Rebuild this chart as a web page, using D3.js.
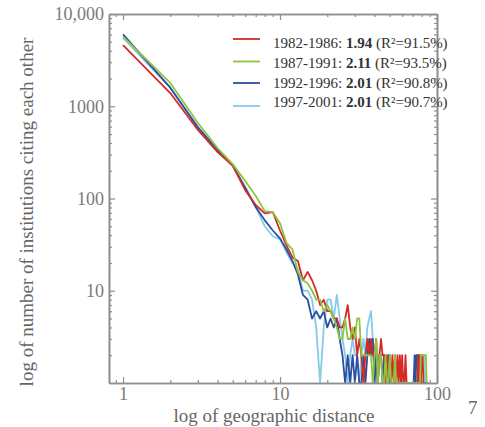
<!DOCTYPE html>
<html><head><meta charset="utf-8">
<script src="https://cdn.jsdelivr.net/npm/d3@7/dist/d3.min.js"></script>
<style>
html,body{margin:0;padding:0;background:#fff;}
svg{display:block;}
</style></head>
<body>
<script>
const distance = [1,2,3,4,5,6,7,8,9,10,11,12,13,14,15,16,17,18,19,20,21,22,23,24,25,26,27,28,29,30,31,32,33,34,35,36,37,38,39,40,41,42,43,44,45,46,47,48,49,50,51,52,53,54,55,56,57,58,59,60,61,62,63,64,65,66,67,68,69,70,71,72,73,74,75,76,77,78,79,80,81,82,83,84,85,86,87,88];

const red = [4600,1390,553,318,228,123,85,69,71,45, 31,23,21,13,16,13,10,7,8,6, 6,5,5,4,4,5,7,4,3,4, 2,3,2,1,2,3,2,3,2,2, 3,1,2,3,2,2,1,2,1,2, 1,2,1,2,1,2,1,2,1,2, 1,1,2,1,1,1,1,1,1,1, 1,1,1,1,1,2,1,2,1,2, 2,1,1,1,1,1,1,1];
const green = [5700,1790,658,352,236,155,107,73,71,54, 33,28,16,13,12,10,8,8,6,7, 6,5,4,3,3,5,3,3,4,3, 5,5,2,2,2,2,2,2,1,2, 3,1,2,2,1,1,2,1,1,2, 1,1,1,2,1,1,1,1,1,1, 1,1,1,1,1,1,1,1,1,1, 1,1,1,1,1,1,1,1,2,2, 2,2,2,2,2,1,1,1];
const blue = [6000,1590,590,336,228,130,81,58,45,37, 28,21,15,9,8,5,6,5,6,4, 5,4,5,3,2,1,2,1,2,1, 2,1,1,2,1,2,3,2,3,1, 2,1,2,2,1,2,1,1,2,1, 1,1,1,1,1,1,1,1,1,1, 1,1,1,1,1,1,1,1,1,1, 1,2,1,2,2,2,1,1,1,1, 1,1,1,1,1,1,1,1];
const cyan = [5500,1590,590,330,225,135,81,50,39,36, 26,20,17,10,10,8,4,1,4,8, 8,5,9,5,3,2,1,2,3,2, 2,1,2,3,2,4,5,6,3,2, 1,2,2,2,2,2,2,1,1,1, 1,1,1,1,1,1,1,1,1,1, 1,1,1,1,1,1,1,1,1,1, 1,1,1,1,1,2,2,1,1,2, 2,2,2,1,1,1,1,1];

const periods = ["1982-1986: ","1987-1991: ","1992-1996: ","1997-2001: "];
const exponents = ["1.94","2.11","2.01","2.01"];
const rsq = [" (R²=91.5%)"," (R²=93.5%)"," (R²=90.8%)"," (R²=90.7%)"];
const colors = ["#d42a26","#8cc63f","#2d4e9e","#86cbea"];
const xTickLabels = [1,10,100];
const yTickLabels = [10,100,1000,10000];

const W = 485, H = 427;
const L = 109, R = 437, T = 14, B = 383;
const svg = d3.select("body").append("svg").attr("width",W).attr("height",H);

const x = d3.scaleLog().domain([0.814,100]).range([L,R]);
const y = d3.scaleLog().domain([1,10000]).range([B,T]);

const axisColor = "#8e8e8e";
const font = "'Liberation Serif', 'Times New Roman', serif";

const xMinor = [], yMinor = [];
[1,10].forEach(d => { for (let k=2;k<=9;k++) xMinor.push(d*k); });
xMinor.unshift(0.9);
[1,10,100,1000].forEach(d => { for (let k=2;k<=9;k++) yMinor.push(d*k); });

function styleAxis(g){
  g.selectAll("path.domain").attr("stroke",axisColor).attr("stroke-width",1.6);
  g.selectAll(".tick line").attr("stroke",axisColor).attr("stroke-width",1.2);
  g.selectAll(".tick text").attr("fill","#7a7a7a").style("font-family",font).style("font-size","18px");
}

// series lines (clipped)
svg.append("clipPath").attr("id","clip").append("rect").attr("x",L).attr("y",T-2).attr("width",R-L).attr("height",B-T+2);
const line = d3.line().x((d,i)=>x(distance[i])).y(d=>y(Math.max(1,d)));
const series = [cyan, blue, red, green];
const seriesColors = [colors[3], colors[2], colors[0], colors[1]];
const lg = svg.append("g").attr("clip-path","url(#clip)");
series.forEach((s,i)=>{
  lg.append("path").datum(s).attr("d",line).attr("fill","none")
    .attr("stroke",seriesColors[i]).attr("stroke-width",1.8).attr("stroke-linejoin","round");
});

// bottom axis
const gb = svg.append("g").attr("transform",`translate(0,${B})`)
  .call(d3.axisBottom(x).tickValues(xTickLabels).tickFormat(d3.format("d")).tickSize(-6).tickSizeOuter(0).tickPadding(4));
styleAxis(gb);
const gbm = svg.append("g").attr("transform",`translate(0,${B})`)
  .call(d3.axisBottom(x).tickValues(xMinor).tickFormat("").tickSize(-3).tickSizeOuter(0));
styleAxis(gbm);
// top axis
const gt = svg.append("g").attr("transform",`translate(0,${T})`)
  .call(d3.axisTop(x).tickValues(xTickLabels).tickFormat("").tickSize(-6).tickSizeOuter(0));
styleAxis(gt);
const gtm = svg.append("g").attr("transform",`translate(0,${T})`)
  .call(d3.axisTop(x).tickValues(xMinor).tickFormat("").tickSize(-3).tickSizeOuter(0));
styleAxis(gtm);
// left axis
const gl = svg.append("g").attr("transform",`translate(${L},0)`)
  .call(d3.axisLeft(y).tickValues(yTickLabels).tickFormat(d=> d===10000 ? "10,000" : String(d)).tickSize(-6).tickSizeOuter(0).tickPadding(5));
styleAxis(gl);
const glm = svg.append("g").attr("transform",`translate(${L},0)`)
  .call(d3.axisLeft(y).tickValues(yMinor).tickFormat("").tickSize(-3).tickSizeOuter(0));
styleAxis(glm);
// right axis
const gr = svg.append("g").attr("transform",`translate(${R},0)`)
  .call(d3.axisRight(y).tickValues(yTickLabels).tickFormat("").tickSize(-6).tickSizeOuter(0));
styleAxis(gr);
const grm = svg.append("g").attr("transform",`translate(${R},0)`)
  .call(d3.axisRight(y).tickValues(yMinor).tickFormat("").tickSize(-3).tickSizeOuter(0));
styleAxis(grm);

// axis titles
svg.append("text").attr("x",(L+R)/2 + 1).attr("y",422).attr("text-anchor","middle")
  .attr("fill","#666").style("font-family",font).style("font-size","19px").text("log of geographic distance");
svg.append("text").attr("transform","translate(33,212) rotate(-90)").attr("text-anchor","middle")
  .attr("fill","#666").style("font-family",font).style("font-size","19px").text("log of number of institutions citing each other");
svg.append("text").attr("x",468).attr("y",414).attr("fill","#666")
  .style("font-family",font).style("font-size","19px").text("7");

// legend
const lineYs = [39,61.5,83,106];
const textYs = [43,63,83,102];
periods.forEach((p,i)=>{
  svg.append("line").attr("x1",233).attr("x2",260).attr("y1",lineYs[i]).attr("y2",lineYs[i])
    .attr("stroke",colors[i]).attr("stroke-width",1.8);
  const t = svg.append("text").attr("x",273).attr("y",textYs[i]).attr("dy","0.35em")
    .attr("fill","#333").style("font-family",font).style("font-size","15px");
  t.append("tspan").text(p);
  t.append("tspan").attr("font-weight","bold").text(exponents[i]);
  t.append("tspan").text(rsq[i]);
});
</script>
</body></html>
